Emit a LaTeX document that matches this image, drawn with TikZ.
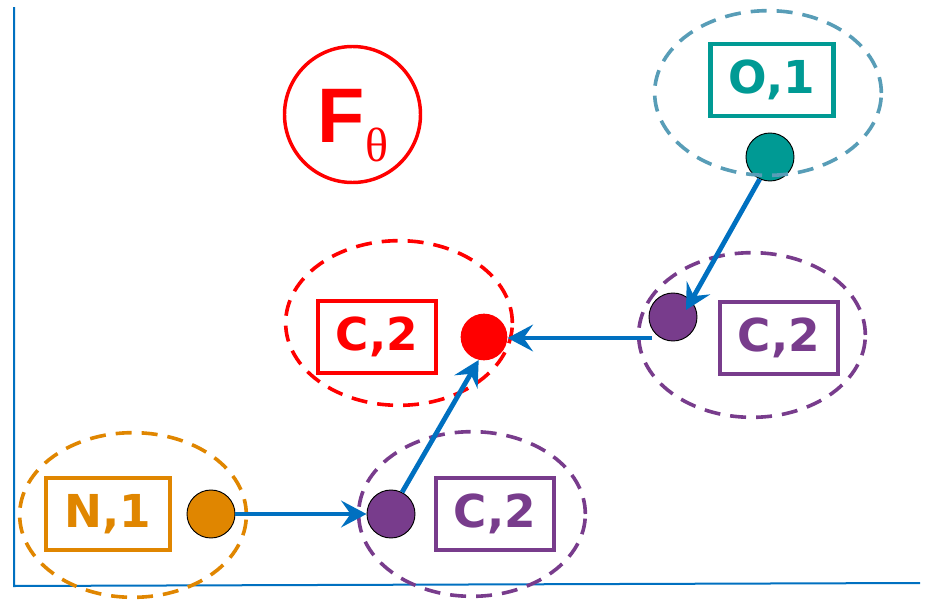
\documentclass[tikz,border=0pt]{standalone}
\usepackage{fontspec}
\newfontfamily\lblfont{DejaVu Sans}
\newfontfamily\Ffont{Liberation Sans}
\newfontfamily\thetafont{Liberation Serif}
\usetikzlibrary{shapes.geometric,arrows.meta,calc}

\definecolor{linkblue}{RGB}{0,112,192}
\definecolor{tealc}{RGB}{0,154,148}
\definecolor{tealring}{RGB}{88,157,183}
\definecolor{purplec}{RGB}{120,60,140}
\definecolor{orangec}{RGB}{224,134,0}
\definecolor{redc}{RGB}{255,0,0}

\begin{document}
\begin{tikzpicture}[x=0.75pt,y=-0.75pt,
  lbl/.style={draw, line width=3.4pt, minimum height=54pt, inner sep=0pt,
    font=\lblfont\bfseries\fontsize{34}{40}\selectfont},
  dot/.style={circle, draw=black, line width=0.7pt, minimum size=36pt, inner sep=0pt},
  grp/.style={ellipse, draw, dash pattern=on 12pt off 7.5pt, line width=2.7pt,
    minimum width=170pt, minimum height=123.5pt, inner sep=0pt},
  link/.style={draw=linkblue, line width=3.6pt,
    -{Stealth[length=19pt,width=20pt,inset=7pt]}},
  axis/.style={draw=linkblue, line width=1.5pt}
]
\useasboundingbox (0,0) rectangle (926,600);

% axes
\coordinate (ytop) at (14,7);
\coordinate (origin) at (14,586);
\coordinate (xend) at (920,583);
\draw[axis] (ytop) -- (origin) -- (xend);

% F_theta badge
\node[circle, draw=redc, line width=2.6pt, minimum size=102pt, inner sep=0pt] (fring) at (352.5,114.5) {};
\node[text=redc, font=\Ffont\bfseries\fontsize{58}{62}\selectfont, inner sep=0pt] (fF) at (341.5,116) {F};
\node[text=redc, font=\thetafont\fontsize{36}{40}\selectfont, inner sep=0pt] (ftheta) at (377,145) {θ};

% atoms (dots)
\node[dot, fill=tealc] (odot) at (770,157) {};
\node[circle, fill=redc, minimum size=35pt, inner sep=0pt] (crdot) at (484,337) {};
\node[dot, fill=purplec] (prdot) at (673,317) {};
\node[dot, fill=purplec] (pbdot) at (391,514) {};
\node[dot, fill=orangec] (ndot) at (211,514) {};

% neighbourhood rings
\node[grp, draw=tealring] (oring) at (768,93) {};
\node[grp, draw=redc] (crring) at (399,323) {};
\node[grp, draw=purplec] (prring) at (752,335) {};
\node[grp, draw=purplec] (pbring) at (472,514) {};
\node[grp, draw=orangec] (nring) at (133,515) {};

% labels
\node[lbl, draw=tealc, text=tealc, minimum width=92pt] (obox) at (772,80) {O,1};
\node[lbl, draw=redc, text=redc, minimum width=88.5pt] (crbox) at (377,337) {C,2};
\node[lbl, draw=purplec, text=purplec, minimum width=88.5pt] (prbox) at (779,338) {C,2};
\node[lbl, draw=purplec, text=purplec, minimum width=88.5pt] (pbbox) at (495,514) {C,2};
\node[lbl, draw=orangec, text=orangec, minimum width=93pt] (nbox) at (108,514) {N,1};

% links
\coordinate (prtip) at (686,310);
\draw[link] (ndot.east) -- (pbdot.west);
\draw[link] (pbdot.63) -- (crdot.-103);
\draw[link] ($(prdot.center)+(-21,21)$) -- (crdot.east |- 0,338);
\draw[link] (odot.-115) -- (prtip);
\end{tikzpicture}
\end{document}
